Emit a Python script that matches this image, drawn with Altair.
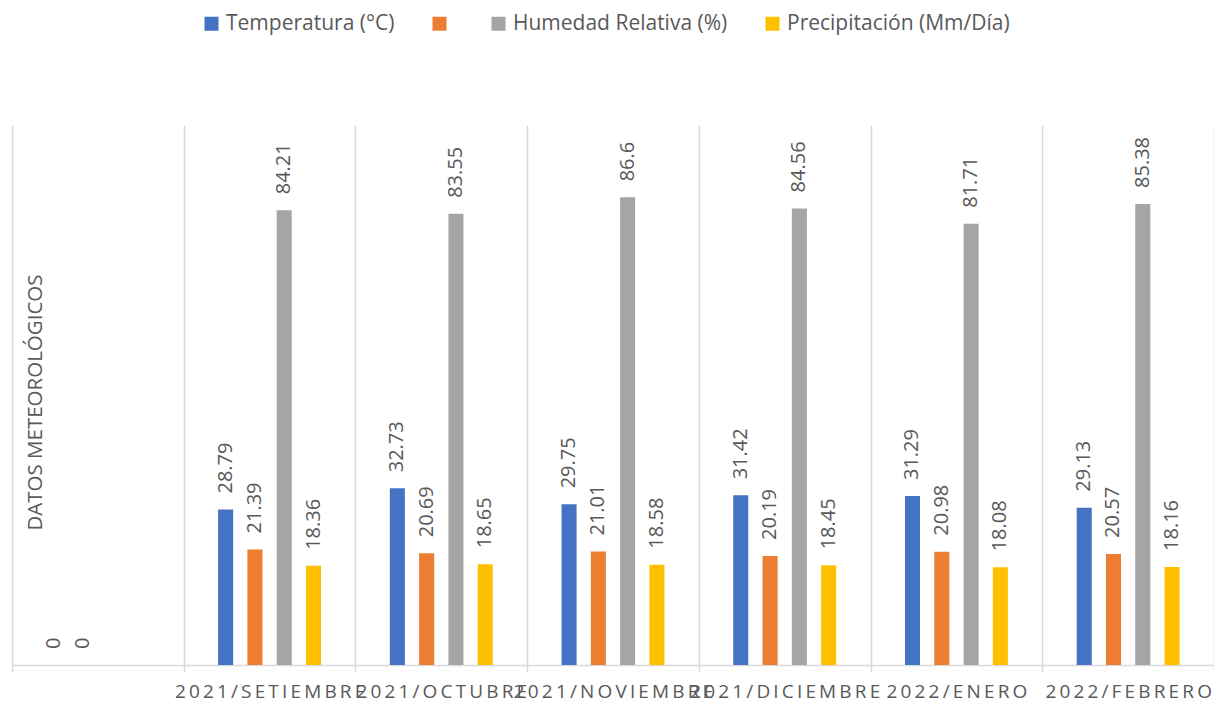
import altair as alt
import pandas as pd

categories = [" ", "2021/SETIEMBRE", "2021/OCTUBRE", "2021/NOVIEMBRE",
              "2021/DICIEMBRE", "2022/ENERO", "2022/FEBRERO"]
series_names = ["Temperatura (°C)", " ", "Humedad Relativa (%)", "Precipitación (Mm/Día)"]
temperatura = [0, 28.79, 32.73, 29.75, 31.42, 31.29, 29.13]
serie2 = [0, 21.39, 20.69, 21.01, 20.19, 20.98, 20.57]
humedad = [None, 84.21, 83.55, 86.6, 84.56, 81.71, 85.38]
precipitacion = [None, 18.36, 18.65, 18.58, 18.45, 18.08, 18.16]
colors = ["#4472C4", "#ED7D31", "#A5A5A5", "#FFC000"]

rows = []
for name, vals in zip(series_names, [temperatura, serie2, humedad, precipitacion]):
    for cat, v in zip(categories, vals):
        if v is not None:
            rows.append({"mes": cat, "serie": name, "valor": v, "etiqueta": f"{v:g}"})
df = pd.DataFrame(rows)

# empty slots on either side of each group of bars (group gap)
offset_domain = ["_izq"] + series_names + ["_der"]

FONT = "Open Sans"
TXT = "#595959"
GRID = "#D9D9D9"

base = alt.Chart(df).encode(
    x=alt.X("mes:N", sort=categories,
            scale=alt.Scale(domain=categories, paddingInner=0, paddingOuter=0),
            axis=alt.Axis(title=None, labelExpr="join(split(datum.label, ''), '\u2009')",
                          tickBand="extent", grid=True, gridColor=GRID, gridWidth=1.5,
                          domainColor=GRID, domainWidth=1.5, tickColor=GRID, tickWidth=1.5,
                          tickSize=7, labelAngle=0, labelFontSize=19, labelColor=TXT,
                          labelFont=FONT, labelPadding=10, labelLimit=500,
                          labelOverlap=False, labelBound=False)),
    xOffset=alt.XOffset("serie:N",
                        scale=alt.Scale(domain=offset_domain, paddingInner=0.486, paddingOuter=0.174)),
    y=alt.Y("valor:Q", scale=alt.Scale(domain=[0, 100]),
            axis=alt.Axis(title="DATOS METEOROLÓGICOS", labels=False, ticks=False, domain=False,
                          grid=False, titleX=23, titleY=277, titleAngle=270, titleAlign="center",
                          titleBaseline="middle", titleFontSize=20.5, titleFont=FONT,
                          titleColor=TXT, titleFontWeight="normal")),
)

bars = base.mark_bar().encode(
    color=alt.Color("serie:N", sort=series_names,
                    scale=alt.Scale(domain=series_names, range=colors),
                    legend=alt.Legend(title=None, orient="none", legendX=189, legendY=-112,
                                      direction="horizontal", symbolType="square",
                                      symbolSize=196, symbolStrokeWidth=0, labelFontSize=21,
                                      labelFont=FONT, labelColor=TXT, labelOffset=4,
                                      labelExpr="datum.label == ' ' ? '' : datum.label",
                                      columnPadding=34, labelLimit=500))
)

labels = base.mark_text(angle=270, align="left", baseline="middle", dx=16,
                        fontSize=20, font=FONT, color=TXT).encode(text="etiqueta:N")

chart = alt.layer(bars, labels).properties(
    width=1202, height=540,
    autosize=alt.AutoSizeParams(type="none"),
    padding={"left": 4, "top": 117, "right": 0, "bottom": 40},
).configure_view(stroke=None)

chart.save("out.html", embed_options={"renderer": "svg", "actions": False})
